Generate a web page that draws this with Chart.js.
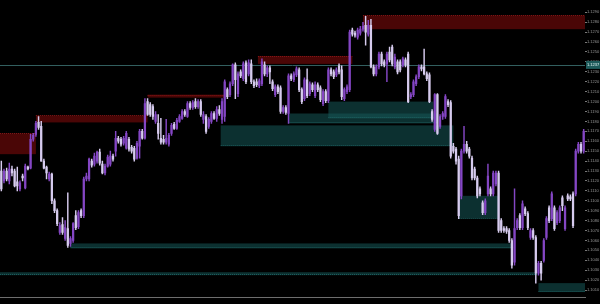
<!DOCTYPE html>
<html lang="en">
<head>
<meta charset="UTF-8">
<title>Supply / demand zones</title>
<script src="https://cdn.jsdelivr.net/npm/chart.js"></script>
<style>
  html, body { margin: 0; padding: 0; background: #000; }
</style>
</head>
<body>
<canvas id="priceChart" width="600" height="304"></canvas>
<script>
// one row per bar: [open, high, low, close]
const candles = [
  [1.1130,1.1140,1.1110,1.1112],[1.1120,1.1132,1.1118,1.1130],[1.1130,1.1133,1.1120,1.1122],[1.1120,1.1138,1.1117,1.1132],[1.1132,1.1135,1.1125,1.1128],
  [1.1130,1.1132,1.1114,1.1115],[1.1119,1.1134,1.1110,1.1115],[1.1112,1.1120,1.1110,1.1118],[1.1125,1.1127,1.1120,1.1123],[1.1113,1.1137,1.1112,1.1135],
  [1.1134,1.1135,1.1131,1.1132],[1.1133,1.1167,1.1132,1.1162],[1.1162,1.1168,1.1160,1.1166],[1.1167,1.1180,1.1165,1.1178],[1.1179,1.1185,1.1172,1.1174],
  [1.1175,1.1180,1.1140,1.1140],[1.1140,1.1142,1.1132,1.1133],[1.1134,1.1135,1.1122,1.1128],[1.1122,1.1129,1.1120,1.1127],[1.1127,1.1128,1.1097,1.1100],
  [1.1100,1.1102,1.1088,1.1090],[1.1090,1.1092,1.1075,1.1077],[1.1068,1.1078,1.1066,1.1075],[1.1076,1.1083,1.1066,1.1068],[1.1062,1.1080,1.1060,1.1073],
  [1.1072,1.1108,1.1053,1.1055],[1.1057,1.1064,1.1054,1.1062],[1.1060,1.1078,1.1058,1.1077],[1.1085,1.1090,1.1071,1.1073],[1.1074,1.1090,1.1072,1.1088],
  [1.1090,1.1092,1.1083,1.1085],[1.1085,1.1124,1.1083,1.1122],[1.1122,1.1128,1.1120,1.1125],[1.1122,1.1143,1.1120,1.1142],[1.1140,1.1142,1.1134,1.1136],
  [1.1137,1.1148,1.1135,1.1145],[1.1140,1.1150,1.1138,1.1149],[1.1149,1.1152,1.1136,1.1138],[1.1137,1.1140,1.1127,1.1128],[1.1128,1.1137,1.1126,1.1135],
  [1.1135,1.1146,1.1134,1.1144],[1.1137,1.1150,1.1135,1.1145],[1.1145,1.1147,1.1140,1.1142],[1.1150,1.1170,1.1145,1.1163],[1.1163,1.1165,1.1158,1.1160],
  [1.1162,1.1164,1.1155,1.1157],[1.1158,1.1165,1.1156,1.1163],[1.1153,1.1170,1.1152,1.1168],[1.1162,1.1164,1.1150,1.1152],[1.1154,1.1156,1.1148,1.1150],
  [1.1153,1.1155,1.1140,1.1142],[1.1143,1.1160,1.1142,1.1158],[1.1155,1.1172,1.1143,1.1170],[1.1170,1.1172,1.1162,1.1163],[1.1163,1.1203,1.1162,1.1198],
  [1.1200,1.1203,1.1186,1.1187],[1.1197,1.1199,1.1185,1.1187],[1.1195,1.1197,1.1182,1.1185],[1.1180,1.1190,1.1178,1.1187],[1.1178,1.1187,1.1162,1.1168],
  [1.1163,1.1183,1.1157,1.1159],[1.1162,1.1166,1.1157,1.1159],[1.1159,1.1182,1.1157,1.1163],[1.1157,1.1168,1.1155,1.1166],[1.1168,1.1178,1.1166,1.1176],
  [1.1177,1.1179,1.1172,1.1173],[1.1173,1.1183,1.1172,1.1181],[1.1180,1.1187,1.1179,1.1185],[1.1183,1.1192,1.1182,1.1190],[1.1190,1.1192,1.1185,1.1187],
  [1.1185,1.1200,1.1184,1.1198],[1.1198,1.1200,1.1192,1.1194],[1.1194,1.1201,1.1192,1.1199],[1.1200,1.1203,1.1193,1.1195],[1.1195,1.1202,1.1193,1.1200],
  [1.1200,1.1202,1.1185,1.1187],[1.1182,1.1190,1.1178,1.1187],[1.1185,1.1187,1.1168,1.1170],[1.1175,1.1184,1.1173,1.1182],[1.1180,1.1190,1.1178,1.1188],
  [1.1188,1.1190,1.1182,1.1183],[1.1183,1.1195,1.1180,1.1192],[1.1192,1.1196,1.1186,1.1188],[1.1182,1.1203,1.1178,1.1200],[1.1185,1.1222,1.1180,1.1220],
  [1.1212,1.1214,1.1203,1.1205],[1.1207,1.1220,1.1205,1.1218],[1.1218,1.1238,1.1216,1.1237],[1.1237,1.1239,1.1203,1.1222],[1.1208,1.1230,1.1205,1.1228],
  [1.1230,1.1232,1.1224,1.1226],[1.1223,1.1240,1.1221,1.1238],[1.1239,1.1241,1.1218,1.1220],[1.1228,1.1242,1.1226,1.1239],[1.1238,1.1242,1.1218,1.1220],
  [1.1220,1.1222,1.1214,1.1216],[1.1220,1.1223,1.1215,1.1217],[1.1216,1.1223,1.1214,1.1221],[1.1218,1.1243,1.1216,1.1240],[1.1237,1.1240,1.1226,1.1228],
  [1.1228,1.1236,1.1225,1.1234],[1.1234,1.1236,1.1218,1.1230],[1.1220,1.1222,1.1211,1.1213],[1.1207,1.1217,1.1205,1.1215],[1.1215,1.1217,1.1208,1.1210],
  [1.1214,1.1216,1.1188,1.1190],[1.1190,1.1196,1.1188,1.1194],[1.1194,1.1196,1.1187,1.1189],[1.1188,1.1228,1.1178,1.1226],[1.1226,1.1228,1.1221,1.1223],
  [1.1222,1.1230,1.1220,1.1228],[1.1227,1.1235,1.1225,1.1233],[1.1232,1.1234,1.1210,1.1212],[1.1212,1.1214,1.1198,1.1200],[1.1203,1.1224,1.1201,1.1222],
  [1.1222,1.1233,1.1204,1.1206],[1.1208,1.1220,1.1206,1.1218],[1.1217,1.1219,1.1210,1.1212],[1.1206,1.1220,1.1204,1.1217],[1.1217,1.1219,1.1210,1.1212],
  [1.1214,1.1216,1.1200,1.1202],[1.1198,1.1212,1.1196,1.1210],[1.1210,1.1212,1.1199,1.1201],[1.1201,1.1234,1.1199,1.1232],[1.1232,1.1234,1.1226,1.1228],
  [1.1230,1.1232,1.1223,1.1225],[1.1227,1.1234,1.1225,1.1232],[1.1236,1.1238,1.1228,1.1230],[1.1232,1.1236,1.1202,1.1205],[1.1203,1.1214,1.1201,1.1212],
  [1.1210,1.1217,1.1208,1.1215],[1.1212,1.1272,1.1210,1.1270],[1.1272,1.1274,1.1266,1.1268],[1.1269,1.1271,1.1265,1.1267],[1.1265,1.1274,1.1263,1.1272],
  [1.1269,1.1276,1.1267,1.1273],[1.1273,1.1280,1.1271,1.1276],[1.1277,1.1286,1.1257,1.1270],[1.1268,1.1282,1.1266,1.1277],[1.1277,1.1283,1.1234,1.1235],
  [1.1235,1.1237,1.1226,1.1228],[1.1228,1.1237,1.1226,1.1235],[1.1235,1.1250,1.1233,1.1248],[1.1248,1.1250,1.1236,1.1238],[1.1240,1.1242,1.1235,1.1237],
  [1.1238,1.1250,1.1220,1.1248],[1.1250,1.1255,1.1240,1.1242],[1.1255,1.1257,1.1236,1.1238],[1.1235,1.1248,1.1233,1.1245],[1.1240,1.1242,1.1228,1.1230],
  [1.1240,1.1242,1.1230,1.1232],[1.1237,1.1245,1.1235,1.1243],[1.1242,1.1244,1.1235,1.1237],[1.1248,1.1250,1.1199,1.1200],[1.1205,1.1209,1.1203,1.1207],
  [1.1207,1.1222,1.1205,1.1220],[1.1218,1.1227,1.1216,1.1225],[1.1225,1.1237,1.1223,1.1235],[1.1235,1.1237,1.1231,1.1233],[1.1235,1.1253,1.1227,1.1228],
  [1.1228,1.1230,1.1221,1.1223],[1.1227,1.1229,1.1199,1.1200],[1.1190,1.1192,1.1180,1.1182],[1.1172,1.1208,1.1170,1.1207],[1.1207,1.1208,1.1167,1.1168],
  [1.1175,1.1187,1.1173,1.1185],[1.1185,1.1190,1.1182,1.1188],[1.1185,1.1207,1.1183,1.1205],[1.1200,1.1202,1.1195,1.1197],[1.1199,1.1201,1.1143,1.1145],
  [1.1155,1.1158,1.1148,1.1150],[1.1152,1.1154,1.1137,1.1140],[1.1142,1.1145,1.1082,1.1085],[1.1105,1.1152,1.1102,1.1150],[1.1150,1.1175,1.1148,1.1157],
  [1.1157,1.1160,1.1148,1.1150],[1.1152,1.1154,1.1143,1.1145],[1.1143,1.1145,1.1121,1.1123],[1.1132,1.1134,1.1121,1.1123],[1.1123,1.1125,1.1103,1.1105],
  [1.1112,1.1114,1.1105,1.1107],[1.1098,1.1100,1.1086,1.1088],[1.1088,1.1102,1.1086,1.1100],[1.1107,1.1137,1.1105,1.1125],[1.1112,1.1114,1.1105,1.1107],
  [1.1107,1.1130,1.1105,1.1128],[1.1117,1.1130,1.1115,1.1128],[1.1128,1.1130,1.1068,1.1070],[1.1080,1.1082,1.1068,1.1070],[1.1072,1.1074,1.1068,1.1070],
  [1.1072,1.1074,1.1067,1.1069],[1.1070,1.1072,1.1058,1.1060],[1.1060,1.1062,1.1032,1.1035],[1.1038,1.1112,1.1035,1.1072],[1.1073,1.1082,1.1071,1.1080],
  [1.1085,1.1087,1.1071,1.1073],[1.1073,1.1100,1.1071,1.1097],[1.1092,1.1094,1.1085,1.1087],[1.1087,1.1089,1.1071,1.1073],[1.1063,1.1072,1.1061,1.1070],
  [1.1070,1.1072,1.1061,1.1063],[1.1063,1.1065,1.1017,1.1027],[1.1027,1.1039,1.1025,1.1037],[1.1037,1.1039,1.1020,1.1027],[1.1040,1.1062,1.1038,1.1060],
  [1.1063,1.1084,1.1061,1.1082],[1.1093,1.1095,1.1078,1.1080],[1.1082,1.1109,1.1080,1.1107],[1.1093,1.1095,1.1070,1.1072],[1.1078,1.1090,1.1076,1.1088],
  [1.1080,1.1095,1.1078,1.1093],[1.1103,1.1105,1.1090,1.1095],[1.1072,1.1095,1.1070,1.1093],[1.1105,1.1107,1.1100,1.1102],[1.1104,1.1106,1.1100,1.1102],
  [1.1107,1.1109,1.1073,1.1075],[1.1107,1.1152,1.1105,1.1150],[1.1150,1.1159,1.1148,1.1157],[1.1157,1.1159,1.1148,1.1150],[1.1150,1.1172,1.1148,1.1170]
];

// time axis labels (bar index where each label starts)
const xTickIdx  = [0, 15, 30, 47, 62, 78, 94, 110, 126, 142, 157, 173, 189, 205];
const xTickText = ['6 Feb 2020', '6 Feb 16:00', '7 Feb 08:00', '10 Feb 00:00', '10 Feb 16:00', '11 Feb 08:00', '12 Feb 00:00',
                   '12 Feb 16:00', '13 Feb 08:00', '14 Feb 00:00', '14 Feb 16:00', '17 Feb 08:00', '18 Feb 00:00', '18 Feb 16:00'];

// supply / demand zones: bar range and price range
const zoneKind   = ['supply', 'supply', 'supply', 'supply', 'supply', 'demand', 'demand', 'demand', 'demand', 'demand', 'demand', 'demand'];
const zoneFrom   = [-0.5, 13, 55, 96.5, 136, 82.5, 108, 123, 172, 26, 202, -0.5];
const zoneTo     = [13, 55, 84, 132, 219.5, 170, 164, 162.5, 187, 192.5, 219.5, 201.5];
const zoneTop    = [1.1168, 1.1186, 1.1207, 1.1246, 1.1287, 1.1176, 1.1188, 1.1200, 1.1105, 1.1057, 1.1017, 1.1028];
const zoneBottom = [1.1147, 1.1179, 1.1204, 1.1238, 1.1273, 1.1155, 1.1178, 1.1183, 1.1082, 1.1052, 1.1008, 1.1025];

const currentPrice = 1.1237;
const priceMin = 1.1003;
const priceMax = 1.1300;

const upColor = '#8446c4';
const downColor = '#d6cbee';
const barColors = candles.map(c => c[3] > c[0] ? upColor : downColor);

// zones + price line behind the bars, price tag on the axis
const zonesPlugin = {
    id: 'zones',
    beforeDatasetsDraw(chart) {
        const { ctx, chartArea, scales: { x, y } } = chart;
        ctx.save();
        ctx.beginPath();
        ctx.rect(chartArea.left, chartArea.top, chartArea.width, chartArea.height);
        ctx.clip();

        zoneKind.forEach((kind, k) => {
            const x1 = x.getPixelForValue(zoneFrom[k]);
            const x2 = x.getPixelForValue(zoneTo[k]);
            const y1 = y.getPixelForValue(zoneTop[k]);
            const y2 = y.getPixelForValue(zoneBottom[k]);
            ctx.fillStyle = kind === 'supply' ? 'rgba(120,10,10,0.62)' : 'rgba(22,88,88,0.55)';
            ctx.fillRect(x1, y1, x2 - x1, y2 - y1);

            // dotted distal edge
            const yd = kind === 'supply' ? Math.round(y1) + 0.5 : Math.round(y2) - 0.5;
            ctx.strokeStyle = kind === 'supply' ? 'rgba(160,30,30,0.7)' : 'rgba(40,120,120,0.6)';
            ctx.lineWidth = 1;
            ctx.setLineDash([1, 1]);
            ctx.beginPath();
            ctx.moveTo(x1, yd);
            ctx.lineTo(x2, yd);
            ctx.stroke();
        });

        ctx.setLineDash([]);
        const yp = Math.round(y.getPixelForValue(currentPrice)) + 0.5;
        ctx.strokeStyle = 'rgba(55,105,105,0.9)';
        ctx.beginPath();
        ctx.moveTo(chartArea.left, yp);
        ctx.lineTo(chartArea.right, yp);
        ctx.stroke();
        ctx.restore();
    },
    afterDraw(chart) {
        const { ctx, chartArea, scales: { y } } = chart;
        const yp = y.getPixelForValue(currentPrice);
        ctx.save();
        ctx.fillStyle = '#1d5a5a';
        ctx.fillRect(chartArea.right + 1, yp - 4, chart.width - chartArea.right - 1, 8);
        ctx.fillStyle = '#e8f6f6';
        ctx.font = '4px "Liberation Sans"';
        ctx.textBaseline = 'middle';
        ctx.fillText(currentPrice.toFixed(4), chartArea.right + 2, yp);
        ctx.restore();
    }
};

const ctx = document.getElementById('priceChart').getContext('2d');
new Chart(ctx, {
    type: 'bar',
    data: {
        labels: candles.map((c, i) => i),
        datasets: [
            {
                label: 'wick',
                data: candles.map(c => [c[2], c[1]]),
                backgroundColor: barColors,
                barThickness: 0.8,
                grouped: false,
                order: 2
            },
            {
                label: 'body',
                data: candles.map(c => [c[0], c[3]]),
                backgroundColor: barColors,
                barThickness: 1.6,
                minBarLength: 1,
                grouped: false,
                order: 1
            }
        ]
    },
    options: {
        responsive: false,
        animation: false,
        layout: { padding: 0 },
        plugins: {
            legend: { display: false },
            tooltip: { enabled: false }
        },
        scales: {
            x: {
                type: 'category',
                offset: true,
                grid: { display: false },
                border: { display: true, color: '#6e6e6e', width: 1 },
                ticks: {
                    autoSkip: false,
                    maxRotation: 0,
                    align: 'start',
                    padding: 1,
                    color: '#8a8a8a',
                    font: { size: 4, family: 'Liberation Sans' },
                    callback: (v, i) => {
                        const k = xTickIdx.indexOf(i);
                        return k >= 0 ? xTickText[k] : null;
                    }
                },
                afterFit: s => { s.height = 7; }
            },
            y: {
                position: 'right',
                min: priceMin,
                max: priceMax,
                grid: { drawOnChartArea: false, drawTicks: true, tickLength: 2, color: '#777' },
                border: { display: false },
                ticks: {
                    stepSize: 0.001,
                    padding: 0,
                    color: '#969696',
                    font: { size: 4, family: 'Liberation Sans' },
                    callback: v => v.toFixed(4)
                },
                afterBuildTicks: s => {
                    s.ticks = s.ticks.filter(t => t.value > priceMin + 0.0005 && t.value < priceMax - 0.0005);
                },
                afterFit: s => { s.width = 15; }
            }
        }
    },
    plugins: [zonesPlugin]
});
</script>
</body>
</html>
